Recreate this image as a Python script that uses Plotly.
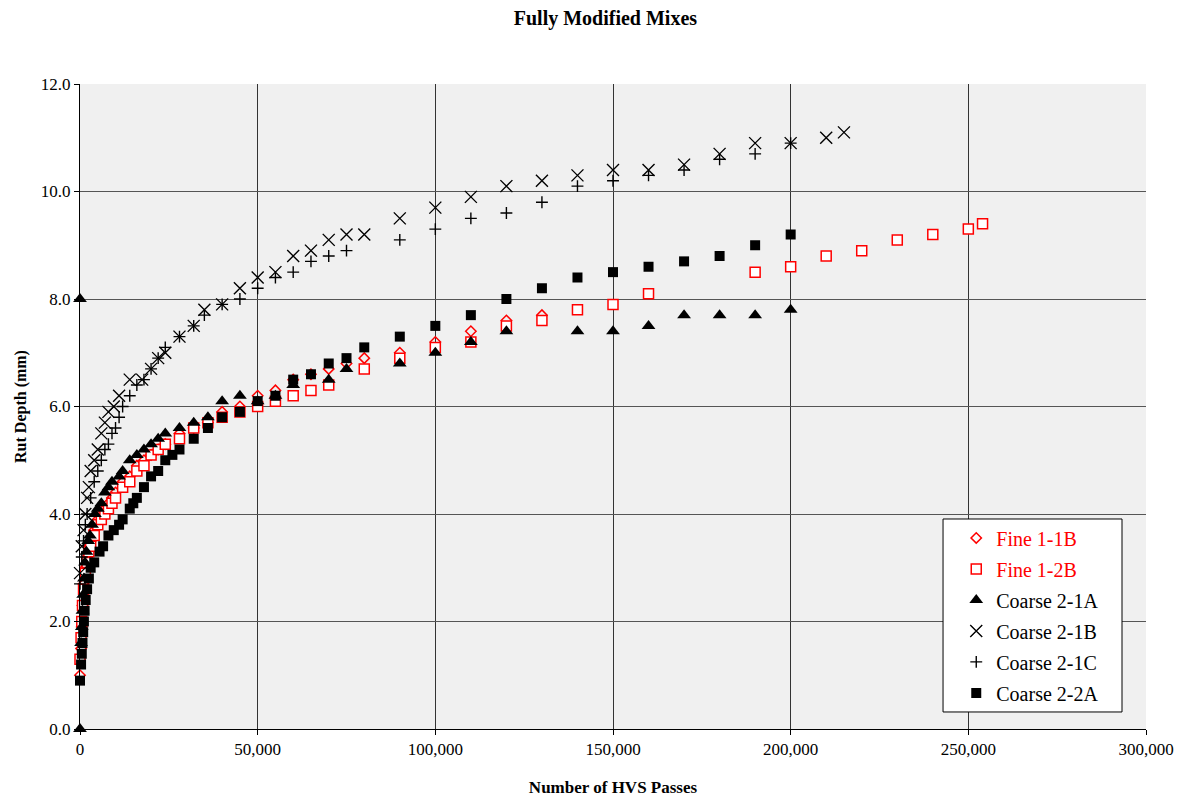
import plotly.graph_objects as go

# Fine 1-1B (open diamond, red)
fine11b_x = [0, 300, 500, 700, 1000, 1500, 2000, 2500, 3000, 4000, 5000, 6000, 7000, 8000, 9000, 10000,
             12000, 14000, 16000, 18000, 20000, 22000, 24000, 28000, 32000, 36000, 40000, 45000, 50000,
             55000, 60000, 65000, 70000, 75000, 80000, 90000, 100000, 110000, 120000, 130000]
fine11b_y = [1.0, 1.5, 1.9, 2.3, 2.7, 3.0, 3.2, 3.4, 3.5, 3.7, 3.9, 4.0, 4.1, 4.2, 4.3, 4.4,
             4.6, 4.7, 4.9, 5.0, 5.1, 5.2, 5.3, 5.5, 5.6, 5.7, 5.9, 6.0, 6.2,
             6.3, 6.5, 6.6, 6.7, 6.8, 6.9, 7.0, 7.2, 7.4, 7.6, 7.7]

# Fine 1-2B (open square, red)
fine12b_x = [0, 300, 500, 700, 1000, 1500, 2000, 2500, 3000, 4000, 5000, 6000, 7000, 8000, 9000, 10000,
             12000, 14000, 16000, 18000, 20000, 22000, 24000, 28000, 32000, 36000, 40000, 45000, 50000,
             55000, 60000, 65000, 70000, 80000, 90000, 100000, 110000, 120000, 130000, 140000, 150000,
             160000, 190000, 200000, 210000, 220000, 230000, 240000, 250000, 254000]
fine12b_y = [1.3, 1.7, 2.0, 2.3, 2.6, 2.9, 3.1, 3.3, 3.4, 3.6, 3.8, 3.9, 4.0, 4.1, 4.2, 4.3,
             4.5, 4.6, 4.8, 4.9, 5.1, 5.2, 5.3, 5.4, 5.6, 5.7, 5.8, 5.9, 6.0,
             6.1, 6.2, 6.3, 6.4, 6.7, 6.9, 7.1, 7.2, 7.5, 7.6, 7.8, 7.9,
             8.1, 8.5, 8.6, 8.8, 8.9, 9.1, 9.2, 9.3, 9.4]

# Coarse 2-1A (filled triangle)
coarse21a_x = [0, 0, 300, 500, 700, 900, 1100, 1400, 1800, 2300, 2800, 3400, 4200, 5000, 6000, 7000,
               8000, 9000, 11000, 12000, 14000, 16000, 18000, 20000, 22000, 24000, 28000, 32000, 36000,
               40000, 45000, 50000, 55000, 60000, 70000, 75000, 90000, 100000, 110000, 120000, 140000,
               150000, 160000, 170000, 180000, 190000, 200000]
coarse21a_y = [8.0, 0.0, 1.6, 1.9, 2.2, 2.5, 2.8, 3.1, 3.3, 3.5, 3.6, 3.8, 4.0, 4.1, 4.2, 4.4,
               4.5, 4.6, 4.7, 4.8, 5.0, 5.1, 5.2, 5.3, 5.4, 5.5, 5.6, 5.7, 5.8,
               6.1, 6.2, 6.1, 6.2, 6.4, 6.5, 6.7, 6.8, 7.0, 7.2, 7.4, 7.4,
               7.4, 7.5, 7.7, 7.7, 7.7, 7.8]

# Coarse 2-1B (x)
coarse21b_x = [0, 500, 1000, 1500, 2000, 2500, 3000, 4000, 5000, 6000, 7000, 8000, 9500, 11000, 14000,
               17500, 20000, 22000, 24000, 28000, 32000, 35000, 40000, 45000, 50000, 55000, 60000, 65000,
               70000, 75000, 80000, 90000, 100000, 110000, 120000, 130000, 140000, 150000, 160000, 170000,
               180000, 190000, 200000, 210000, 215000]
coarse21b_y = [2.9, 3.4, 3.7, 4.0, 4.3, 4.5, 4.8, 5.0, 5.2, 5.5, 5.7, 5.9, 6.0, 6.2, 6.5,
               6.5, 6.7, 6.9, 7.0, 7.3, 7.5, 7.8, 7.9, 8.2, 8.4, 8.5, 8.8, 8.9,
               9.1, 9.2, 9.2, 9.5, 9.7, 9.9, 10.1, 10.2, 10.3, 10.4, 10.4, 10.5,
               10.7, 10.9, 10.9, 11.0, 11.1]

# Coarse 2-1C (+)
coarse21c_x = [0, 500, 1000, 1500, 2000, 3000, 4000, 5000, 6000, 7000, 8000, 9000, 10000, 11000, 12000,
               14000, 16000, 18000, 20000, 22000, 24000, 28000, 32000, 35000, 40000, 45000, 50000, 55000,
               60000, 65000, 70000, 75000, 90000, 100000, 110000, 120000, 130000, 140000, 150000, 160000,
               170000, 180000, 190000, 200000]
coarse21c_y = [2.7, 3.2, 3.5, 3.8, 4.0, 4.3, 4.6, 4.8, 5.0, 5.2, 5.3, 5.5, 5.6, 5.8, 6.0,
               6.2, 6.4, 6.5, 6.7, 6.9, 7.1, 7.3, 7.5, 7.7, 7.9, 8.0, 8.2, 8.4,
               8.5, 8.7, 8.8, 8.9, 9.1, 9.3, 9.5, 9.6, 9.8, 10.1, 10.2, 10.3,
               10.4, 10.6, 10.7, 10.9]

# Coarse 2-2A (filled square)
coarse22a_x = [0, 300, 500, 700, 900, 1100, 1300, 1600, 2000, 2500, 3000, 4000, 5500, 6500, 8000, 9500,
               11000, 12000, 14000, 15000, 16000, 18000, 20000, 22000, 24000, 26000, 28000, 32000, 36000,
               40000, 45000, 50000, 55000, 60000, 65000, 70000, 75000, 80000, 90000, 100000, 110000,
               120000, 130000, 140000, 150000, 160000, 170000, 180000, 190000, 200000]
coarse22a_y = [0.9, 1.2, 1.4, 1.6, 1.8, 2.0, 2.2, 2.4, 2.6, 2.8, 3.0, 3.1, 3.3, 3.4, 3.6, 3.7,
               3.8, 3.9, 4.1, 4.2, 4.3, 4.5, 4.7, 4.8, 5.0, 5.1, 5.2, 5.4, 5.6,
               5.8, 5.9, 6.1, 6.2, 6.5, 6.6, 6.8, 6.9, 7.1, 7.3, 7.5, 7.7,
               8.0, 8.2, 8.4, 8.5, 8.6, 8.7, 8.8, 9.0, 9.2]

x_ticks = [0, 50000, 100000, 150000, 200000, 250000, 300000]
y_ticks = [0, 2, 4, 6, 8, 10, 12]

FONT = "Liberation Serif"
RED = "#ff0000"

fig = go.Figure()

series = [
    ("Fine 1-1B", fine11b_x, fine11b_y, dict(symbol="diamond-open", size=8, color=RED, line=dict(color=RED, width=1.5)), RED),
    ("Fine 1-2B", fine12b_x, fine12b_y, dict(symbol="square", size=10, color="white", line=dict(color=RED, width=1.5)), RED),
    ("Coarse 2-1A", coarse21a_x, coarse21a_y, dict(symbol="triangle-up", size=12, color="black", line=dict(width=0)), "black"),
    ("Coarse 2-1B", coarse21b_x, coarse21b_y, dict(symbol="x-thin-open", size=12, color="black", line=dict(color="black", width=1.4)), "black"),
    ("Coarse 2-1C", coarse21c_x, coarse21c_y, dict(symbol="cross-thin-open", size=8.5, color="black", line=dict(color="black", width=1.4)), "black"),
    ("Coarse 2-2A", coarse22a_x, coarse22a_y, dict(symbol="square", size=10, color="black", line=dict(width=0)), "black"),
]

for i, (name, xs, ys, mk, col) in enumerate(series):
    fig.add_trace(go.Scatter(
        x=xs, y=ys, mode="markers", marker=mk,
        name=f"<span style='color:{col}'>{name}</span>",
        legendgroup=f"g{i}", cliponaxis=False,
    ))

# legend frame (drawn as a shape so its size matches the reference)
fig.add_shape(type="rect", xref="paper", yref="paper",
              x0=0.8096, x1=0.9775, y0=0.0264, y1=0.3256,
              fillcolor="white", line=dict(color="black", width=1), layer="above")

fig.update_layout(
    width=1183, height=803,
    paper_bgcolor="white", plot_bgcolor="#f0f0f0",
    margin=dict(l=72, r=45, t=76, b=82),
    font=dict(family=FONT, size=17, color="black"),
    title=dict(text="<b>Fully Modified Mixes</b>", x=0.505, xanchor="center", y=0.988, yanchor="middle",
               font=dict(family=FONT, size=20, color="black")),
    showlegend=True,
    legend=dict(x=0.822, y=0.3265, xanchor="left", yanchor="top",
                bgcolor="rgba(0,0,0,0)", borderwidth=0,
                font=dict(family=FONT, size=20), traceorder="grouped", tracegroupgap=2,
                itemsizing="trace"),
)

fig.update_xaxes(
    range=[0, 300000], tickvals=x_ticks, tickformat=",", showgrid=True, gridcolor="#333", gridwidth=1,
    showline=True, linecolor="black", linewidth=1, mirror=False, ticks="outside", ticklen=5, tickcolor="black",
    zeroline=False, title=dict(text="<b>Number of HVS Passes</b>", font=dict(family=FONT, size=17), standoff=22),
)
fig.update_yaxes(
    range=[0, 12], tickvals=y_ticks, tickformat=".1f", showgrid=True, gridcolor="#555", gridwidth=1,
    showline=True, linecolor="black", linewidth=1, ticks="outside", ticklen=5, tickcolor="black",
    zeroline=False, title=dict(text="<b>Rut Depth (mm)</b>", font=dict(family=FONT, size=16), standoff=10),
)

fig.write_html("out.html")
